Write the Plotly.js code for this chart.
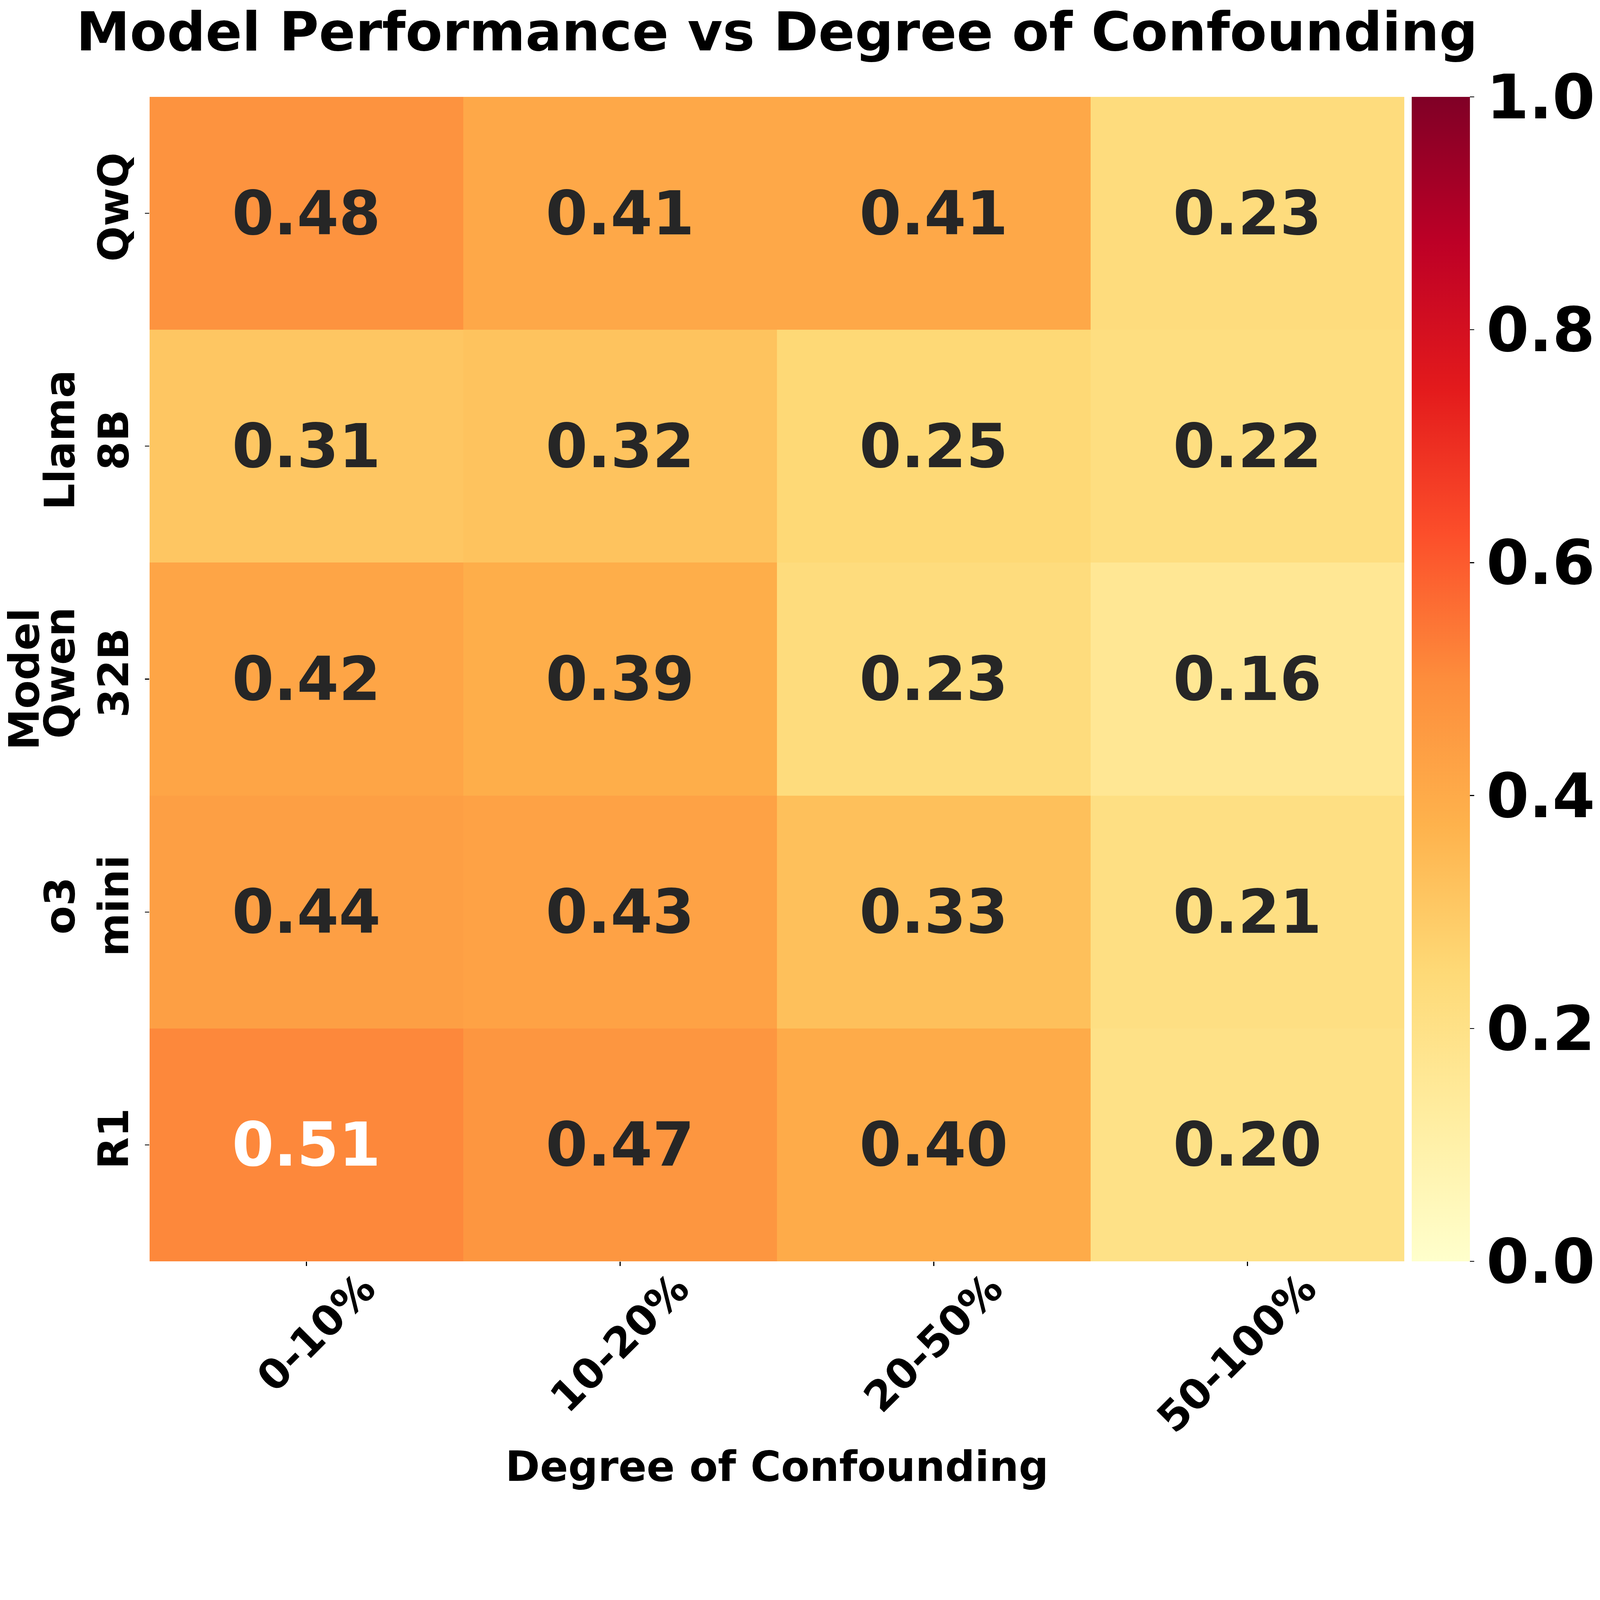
<!DOCTYPE html>
<html>
<head>
<meta charset="utf-8">
<script src="https://cdn.plot.ly/plotly-3.0.1.min.js"></script>
<style>html,body{margin:0;padding:0;background:#fff;overflow:hidden;}</style>
</head>
<body>
<div id="chart"></div>
<script>
// ---- data ----
const degrees = ["0-10%", "10-20%", "20-50%", "50-100%"];
const models = ["QwQ", "Llama<br>8B", "Qwen<br>32B", "o3<br>mini", "R1"];
const qwq     = [0.48, 0.41, 0.41, 0.23];
const llama8b = [0.31, 0.32, 0.25, 0.22];
const qwen32b = [0.42, 0.39, 0.23, 0.16];
const o3mini  = [0.44, 0.43, 0.33, 0.21];
const r1      = [0.51, 0.47, 0.40, 0.20];
const cbTicks = [0, 0.2, 0.4, 0.6, 0.8, 1.0];

const z = [qwq, llama8b, qwen32b, o3mini, r1];

// scale: reference is 5577 x 5224 device pixels
const W = window.innerWidth || 5577;
const H = window.innerHeight || 5224;
const s = Math.min(W / 5577, H / 5224);
const px = v => v * s;
const ipx = v => Math.round(v * s);
const chartDiv = document.getElementById("chart");
chartDiv.style.width = px(5577) + "px";
chartDiv.style.height = px(5224) + "px";

// matplotlib YlOrRd (ColorBrewer 9-class)
const ylorrd = ["#ffffcc","#ffeda0","#fed976","#feb24c","#fd8d3c","#fc4e2a","#e31a1c","#bd0026","#800026"];
const colorscale = ylorrd.map((c, i) => [i / (ylorrd.length - 1), c]);

function hexToRgb(h){ return [parseInt(h.slice(1,3),16), parseInt(h.slice(3,5),16), parseInt(h.slice(5,7),16)]; }
function colorAt(v){
  const t = Math.max(0, Math.min(1, v)) * (ylorrd.length - 1);
  const i = Math.min(Math.floor(t), ylorrd.length - 2);
  const f = t - i;
  const a = hexToRgb(ylorrd[i]), b = hexToRgb(ylorrd[i+1]);
  return a.map((c, k) => c + (b[k] - c) * f);
}
function lum(rgb){
  const l = rgb.map(c => { c = c / 255; return c <= 0.03928 ? c / 12.92 : Math.pow((c + 0.055) / 1.055, 2.4); });
  return 0.2126 * l[0] + 0.7152 * l[1] + 0.0722 * l[2];
}

const font = "DejaVu Sans";
const annotations = [];
z.forEach((row, ri) => {
  row.forEach((v, ci) => {
    annotations.push({
      x: degrees[ci], y: models[ri], xref: "x", yref: "y",
      text: v.toFixed(2), showarrow: false,
      font: {family: font, size: px(210), weight: "bold", color: lum(colorAt(v)) > 0.408 ? "#262626" : "#ffffff"}
    });
  });
});

const trace = {
  type: "heatmap",
  x: degrees, y: models, z: z,
  zmin: 0, zmax: 1,
  colorscale: colorscale,
  hoverinfo: "skip",
  colorbar: {
    x: 1.0059, xanchor: "left", xref: "paper",
    y: 0.5, yanchor: "middle", len: 1, lenmode: "fraction",
    thickness: px(203), thicknessmode: "pixels",
    xpad: 0, ypad: 0, outlinewidth: 0,
    tickvals: cbTicks, tickformat: ".1f",
    ticks: "outside", ticklen: px(15), tickwidth: px(3), tickcolor: "#000",
    tickfont: {family: font, size: px(214), weight: "bold", color: "#000"}
  }
};

const layout = {
  width: px(5577), height: px(5224),
  margin: {l: px(521), r: px(657), t: px(338), b: px(828), pad: 0},
  paper_bgcolor: "#fff", plot_bgcolor: "#fff",
  title: {
    text: "Model Performance vs Degree of Confounding",
    font: {family: font, size: px(188), weight: "bold", color: "#000"},
    x: 0.5, xref: "paper", xanchor: "center",
    y: 1 - 110 / 5224, yref: "container", yanchor: "middle"
  },
  xaxis: {
    type: "category", showgrid: false, zeroline: false, showline: false,
    ticks: "outside", ticklen: px(15), tickwidth: px(3), tickcolor: "#000",
    tickangle: -45, ticklabelshift: ipx(197), ticklabelstandoff: ipx(-65),
    tickfont: {family: font, size: px(145), weight: "bold", color: "#000"},
    title: {text: "Degree of Confounding", standoff: px(34),
            font: {family: font, size: px(145), weight: "bold", color: "#000"}},
    automargin: false
  },
  yaxis: {
    type: "category", autorange: "reversed", showgrid: false, zeroline: false, showline: false,
    ticks: "outside", ticklen: px(15), tickwidth: px(3), tickcolor: "#000",
    tickangle: -90,
    tickfont: {family: font, size: px(145), weight: "bold", color: "#000"},
    title: {text: "Model", standoff: px(40),
            font: {family: font, size: px(145), weight: "bold", color: "#000"}},
    automargin: false
  },
  annotations: annotations,
  showlegend: false
};

Plotly.newPlot("chart", [trace], layout, {staticPlot: true, displayModeBar: false});
</script>
</body>
</html>
